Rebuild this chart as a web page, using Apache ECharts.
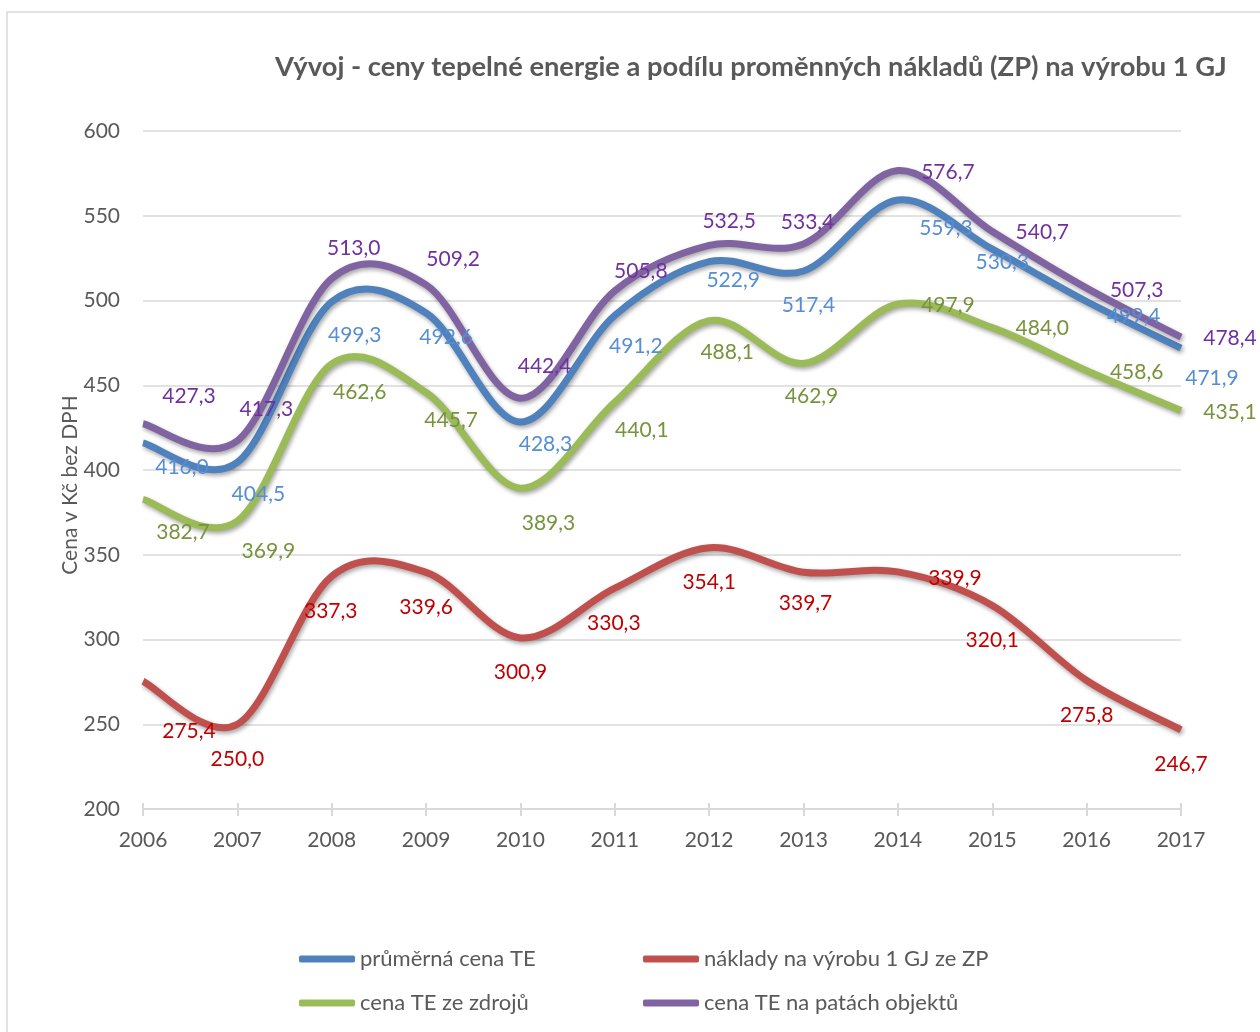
<!DOCTYPE html>
<html><head><meta charset="utf-8">
<script src="https://cdn.jsdelivr.net/npm/echarts@6/dist/echarts.min.js"></script>
<style>html,body{margin:0;padding:0;background:#fff}#c{width:1260px;height:1032px}</style>
</head><body><div id="c"></div>
<script>
// ---- data ----
const years = ['2006','2007','2008','2009','2010','2011','2012','2013','2014','2015','2016','2017'];
const prumernaCena = [416.0, 404.5, 499.3, 492.6, 428.3, 491.2, 522.9, 517.4, 559.3, 530.3, 499.4, 471.9];
const nakladyZP   = [275.4, 250.0, 337.3, 339.6, 300.9, 330.3, 354.1, 339.7, 339.9, 320.1, 275.8, 246.7];
const cenaZdroje  = [382.7, 369.9, 462.6, 445.7, 389.3, 440.1, 488.1, 462.9, 497.9, 484.0, 458.6, 435.1];
const cenaPaty    = [427.3, 417.3, 513.0, 509.2, 442.4, 505.8, 532.5, 533.4, 576.7, 540.7, 507.3, 478.4];
const seriesNames = ['průměrná cena TE', 'náklady na výrobu 1 GJ ze ZP', 'cena TE ze zdrojů', 'cena TE na patách objektů'];
const yMin = 200, yMax = 600, yStep = 50;

// ---- label placement (pixel offsets from point, layout only) ----
const offPaty    = [[46,-27],[29,-31],[22,-30],[27,-26],[24,-32],[26,-19],[20,-24],[4,-22],[50,2],[50,1],[50,2],[49,1]];
const offPrumer  = [[39,24],[21,32],[23,34],[20,24],[25,22],[21,31],[24,19],[5,34],[48,28],[10,13],[47,15],[31,30]];
const offZdroje  = [[40,33],[31,30],[28,28],[25,28],[28,35],[27,28],[18,32],[8,33],[50,1],[50,1],[50,2],[49,2]];
const offNaklady = [[46,50],[0,35],[-1,35],[0,35],[0,34],[-1,35],[0,34],[2,31],[57,6],[0,35],[0,35],[0,34]];

const FONT = 'Lato';
const fmt = v => v.toFixed(1).replace('.', ',');

function makeRender(values, color, labelColor, offsets) {
  return function (params, api) {
    const i = params.dataIndex;
    const children = [];
    if (i === 0) {
      const pts = values.map((v, k) => api.coord([k, v]));
      let d = 'M' + pts[0][0] + ' ' + pts[0][1];
      for (let k = 0; k < pts.length - 1; k++) {
        const p0 = pts[Math.max(k - 1, 0)], p1 = pts[k], p2 = pts[k + 1], p3 = pts[Math.min(k + 2, pts.length - 1)];
        const c1x = p1[0] + (p2[0] - p0[0]) / 6, c1y = p1[1] + (p2[1] - p0[1]) / 6;
        const c2x = p2[0] - (p3[0] - p1[0]) / 6, c2y = p2[1] - (p3[1] - p1[1]) / 6;
        d += ' C' + c1x + ' ' + c1y + ' ' + c2x + ' ' + c2y + ' ' + p2[0] + ' ' + p2[1];
      }
      children.push({
        type: 'path', shape: { pathData: d }, z2: 1,
        style: { fill: 'none', stroke: color, lineWidth: 7, lineCap: 'butt', lineJoin: 'round',
                 shadowBlur: 4, shadowColor: 'rgba(0,0,0,0.35)', shadowOffsetX: 1.5, shadowOffsetY: 2.5 }
      });
    }
    const p = api.coord([i, values[i]]);
    children.push({
      type: 'text', x: p[0] + offsets[i][0], y: p[1] + offsets[i][1], z2: 100,
      style: { text: fmt(values[i]), fill: labelColor, font: '21px ' + FONT, align: 'center', verticalAlign: 'middle' }
    });
    return { type: 'group', children };
  };
}

function mkSeries(name, values, color, labelColor, offsets) {
  return {
    type: 'custom', name, coordinateSystem: 'cartesian2d', xAxisIndex: 0, yAxisIndex: 0,
    data: values.map((v, i) => [i, v]), encode: { x: 0, y: 1 },
    itemStyle: { color }, renderItem: makeRender(values, color, labelColor, offsets), silent: true
  };
}

const chart = echarts.init(document.getElementById('c'), null, { renderer: 'canvas' });
const axisText = { color: '#595959', fontFamily: FONT, fontSize: 21 };
const legendCommon = {
  orient: 'vertical', icon: 'roundRect', itemWidth: 56, itemHeight: 7, itemGap: 20, padding: 0,
  textStyle: { color: '#595959', fontFamily: FONT, fontSize: 22, lineHeight: 24 }, selectedMode: false
};
chart.setOption({
  animation: false,
  backgroundColor: '#fff',
  title: {
    text: 'Vývoj - ceny tepelné energie a podílu proměnných nákladů (ZP) na výrobu 1 GJ',
    left: 275, top: 54, padding: 0,
    textStyle: { color: '#595959', fontFamily: FONT, fontWeight: 'bold', fontSize: 27.3 }
  },
  graphic: [
    { type: 'rect', shape: { x: 7, y: 12, width: 1400, height: 1200 }, style: { fill: 'none', stroke: '#d9d9d9', lineWidth: 1.5 }, silent: true },
    { type: 'text', x: 70, y: 485, rotation: Math.PI / 2,
      style: { text: 'Cena v Kč bez DPH', fill: '#595959', font: '21px ' + FONT, align: 'center', verticalAlign: 'middle' } }
  ],
  grid: { left: 143, right: 79, top: 131, bottom: 223 },
  xAxis: [
    { type: 'category', data: years, boundaryGap: false,
      axisLine: { lineStyle: { color: '#d9d9d9', width: 2 } },
      axisTick: { length: 7, lineStyle: { color: '#d9d9d9', width: 2 } },
      axisLabel: Object.assign({ margin: 21 }, axisText), splitLine: { show: false } },
    { type: 'category', data: years, boundaryGap: false, position: 'bottom',
      axisLine: { show: false }, axisLabel: { show: false },
      axisTick: { inside: true, length: 6, lineStyle: { color: '#d9d9d9', width: 2 } } }
  ],
  yAxis: {
    type: 'value', min: yMin, max: yMax, interval: yStep,
    axisLine: { show: false }, axisTick: { show: false },
    axisLabel: Object.assign({ margin: 23 }, axisText),
    splitLine: { lineStyle: { color: '#d9d9d9', width: 1.5 } }
  },
  legend: [
    Object.assign({ left: 299, top: 947, data: [seriesNames[0], seriesNames[2]] }, legendCommon),
    Object.assign({ left: 643, top: 947, data: [seriesNames[1], seriesNames[3]] }, legendCommon)
  ],
  series: [
    mkSeries(seriesNames[0], prumernaCena, '#4F81BD', '#558ED5', offPrumer),
    mkSeries(seriesNames[1], nakladyZP, '#C0504D', '#C00000', offNaklady),
    mkSeries(seriesNames[2], cenaZdroje, '#9BBB59', '#77933C', offZdroje),
    mkSeries(seriesNames[3], cenaPaty, '#8064A2', '#7030A0', offPaty)
  ]
});
</script></body></html>
